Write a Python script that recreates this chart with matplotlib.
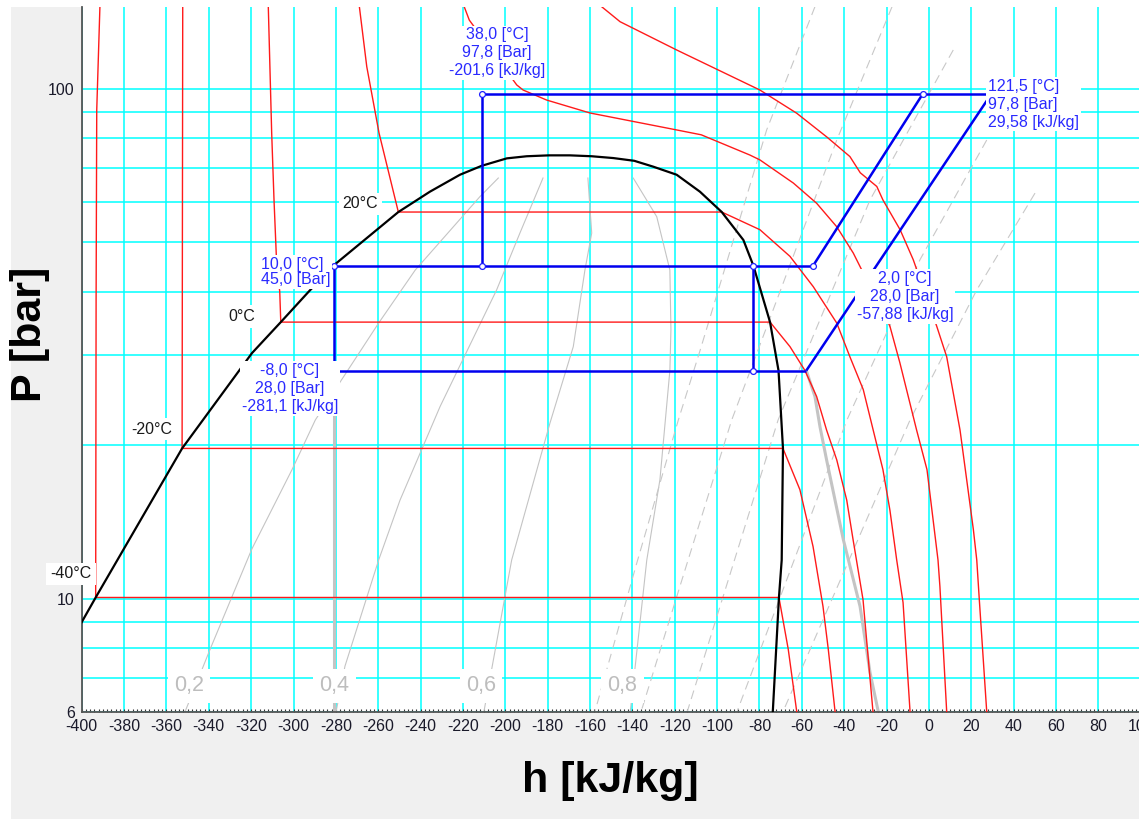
import matplotlib
matplotlib.use("Agg")
import matplotlib.pyplot as plt
from matplotlib.patches import Rectangle
from matplotlib.ticker import FixedLocator, MultipleLocator, NullFormatter, FuncFormatter

plt.rcParams['font.family'] = ['Liberation Sans', 'DejaVu Sans']
plt.rcParams['axes.unicode_minus'] = False

# ---------------- data (h in kJ/kg, P in bar) ----------------
X_TICKS = [-400, -380, -360, -340, -320, -300, -280, -260, -240, -220, -200, -180,
           -160, -140, -120, -100, -80, -60, -40, -20, 0, 20, 40, 60, 80, 100]
Y_TICKS = [6, 10, 100]
Y_GRID_MINOR = [7, 8, 9, 20, 30, 40, 50, 60, 70, 80, 90]

# saturation dome
H_SAT = [-400.0, -393.4, -352.6, -319.6, -306.0, -292.8, -281.1, -250.5, -235.6, -221.4,
         -211.1, -199.3, -189.9, -179.4, -169.5, -159.2, -149.0, -139.1, -130.1, -119.1,
         -108.1, -97.8, -87.6, -82.9, -75.0, -71.0, -68.9, -69.5, -70.8, -73.7]
P_SAT = [8.99, 10.05, 19.7, 30.3, 34.85, 40.0, 45.0, 57.29, 62.8, 67.8,
         70.6, 73.0, 73.7, 74.0, 74.0, 73.7, 73.1, 72.2, 70.3, 67.8,
         62.8, 57.29, 50.5, 45.0, 34.85, 28.0, 19.7, 11.9, 10.05, 6.0]

# isotherms
H_T_M40 = [-391.4, -392.9, -393.2, -393.4, -70.8, -66.4, -62.4]
P_T_M40 = [144.8, 90.8, 38.5, 10.05, 10.05, 7.95, 6.0]
H_T_M20 = [-352.3, -352.6, -68.9, -60.9, -54.7, -50.0, -47.5, -44.3]
P_T_M20 = [144.8, 19.7, 19.7, 16.35, 12.65, 9.65, 7.95, 6.0]
H_T_0 = [-311.9, -310.3, -309.2, -307.9, -306.5, -306.0, -75.0, -65.6, -58.5, -53.0,
         -48.3, -43.5, -38.8, -35.8, -31.1, -26.4]
P_T_0 = [144.8, 81.8, 60.5, 44.8, 40.0, 34.85, 34.85, 31.2, 28.0, 24.9,
         21.4, 18.7, 15.6, 13.05, 9.95, 6.0]
H_T_20 = [-268.9, -265.4, -259.6, -250.5, -97.8, -79.8, -65.6, -54.6, -43.5, -37.3,
          -31.0, -26.3, -21.7, -18.4, -15.2, -12.2, -8.9]
P_T_20 = [144.8, 110.4, 81.8, 57.29, 57.29, 52.9, 46.9, 40.9, 34.7, 29.8,
          25.7, 21.4, 17.9, 14.9, 11.9, 9.82, 6.0]
H_T_40 = [-219.4, -217.0, -204.9, -194.6, -191.6, -180.5, -160.0, -119.1, -107.5, -84.5,
          -79.8, -64.0, -53.0, -43.5, -35.7, -29.4, -18.4, -13.7, -5.8, -0.9, 4.3, 5.2, 8.4]
P_T_40 = [144.8, 136.3, 116.4, 101.7, 99.4, 95.0, 89.6, 83.0, 81.2, 74.1,
          72.5, 65.3, 59.6, 53.6, 47.6, 42.2, 34.2, 29.0, 21.4, 17.9, 11.9, 10.56, 6.0]
H_T_60 = [-154.5, -145.8, -119.1, -79.8, -62.4, -48.2, -37.3, -32.4, -24.6, -21.7,
          -13.6, -7.4, 3.7, 8.4, 14.7, 21.0, 22.6, 23.8, 27.3]
P_T_60 = [144.8, 135.3, 119.1, 99.4, 89.5, 80.4, 73.6, 68.4, 64.3, 60.5,
          52.9, 46.2, 34.2, 29.8, 21.4, 13.65, 11.9, 9.95, 6.0]

# vapour quality lines
H_X02 = [-203.3, -212.0, -242.5, -259.8, -289.7, -300.7, -319.7, -339.4, -351.2]
P_X02 = [66.8, 61.4, 44.1, 34.7, 22.4, 17.9, 12.5, 7.95, 6.0]
H_X04 = [-182.2, -193.1, -204.1, -230.8, -249.7, -259.8, -275.7, -279.9]
P_X04 = [66.8, 52.1, 40.3, 23.8, 15.6, 11.9, 7.37, 6.0]
H_X06 = [-161.0, -159.2, -162.4, -167.9, -178.9, -197.0, -210.1]
P_X06 = [66.8, 52.1, 44.1, 31.2, 22.1, 11.9, 6.0]
H_X08 = [-139.6, -128.5, -122.3, -121.8, -122.3, -127.0, -133.2, -141.0]
P_X08 = [66.8, 56.1, 44.1, 33.7, 28.0, 17.1, 11.9, 6.0]

# isentropes (dashed)
H_S1 = [-53.8, -76.6, -108.0, -118.3, -137.9, -157.7]
P_S1 = [144.8, 83.0, 30.7, 22.4, 11.75, 6.0]
H_S2 = [-17.4, -43.5, -68.2, -93.1, -113.7, -135.9]
P_S2 = [144.8, 79.3, 42.2, 22.4, 11.9, 6.0]
H_S3 = [11.5, -27.8, -71.2, -114.1]
P_S3 = [119.1, 60.5, 22.4, 6.0]
H_S4 = [27.3, -4.2, -38.7, -90.6]
P_S4 = [79.3, 46.2, 22.4, 6.0]
H_S5 = [50.1, 22.6, -8.9, -68.9]
P_S5 = [62.4, 40.3, 22.4, 6.0]

# highlighted lines through the evaporator points
H_HL_ISENTH = [-281.1, -281.1]
P_HL_ISENTH = [28.0, 6.0]
H_HL_ISOT = [-57.88, -53.8, -51.4, -48.3, -40.4, -32.5, -27.8, -23.9]
P_HL_ISOT = [28.0, 24.9, 21.7, 18.7, 13.05, 9.65, 7.16, 6.0]

# refrigeration cycle segments (as drawn)
CYCLE_H = [[-211.1, 29.58], [-211.1, -211.1], [-281.1, -54.6], [-281.1, -281.1],
           [-82.9, -82.9], [-281.1, -57.88], [-57.88, 29.58], [-54.6, -2.8]]
CYCLE_P = [[97.8, 97.8], [97.8, 45.0], [45.0, 45.0], [45.0, 28.0],
           [45.0, 28.0], [28.0, 28.0], [28.0, 97.8], [45.0, 97.8]]
MARK_H = [-211.1, -211.1, -281.1, -281.1, -82.9, -82.9, -54.6, -2.8]
MARK_P = [97.8, 45.0, 45.0, 28.0, 45.0, 28.0, 45.0, 97.8]

QUALITY_LABELS = ["0,2", "0,4", "0,6", "0,8"]
TEMP_LABELS = ["20°C", "0°C", "-20°C", "-40°C"]

# ---------------- figure ----------------
W, H = 1139, 819
fig = plt.figure(figsize=(W / 100, H / 100), dpi=100)
fig.patch.set_facecolor('white')
fig.patches.append(Rectangle((11 / W, 0), 1, (H - 6.7) / H, transform=fig.transFigure,
                             facecolor='#f0f0f0', edgecolor='none', zorder=-10))


def fxy(x, y):
    return (x / W, 1 - y / H)


ax = fig.add_axes([81.7 / W, 1 - 711.7 / H, 1059 / W, 705 / H])
ax.set_facecolor('white')
ax.set_yscale('log')
ax.set_xlim(-400, 100)
ax.set_ylim(6, 144.8)

ax.xaxis.set_major_locator(FixedLocator(X_TICKS))
ax.xaxis.set_minor_locator(MultipleLocator(2))
ax.yaxis.set_major_locator(FixedLocator(Y_TICKS))
ax.yaxis.set_major_formatter(FuncFormatter(lambda v, _: f"{v:g}"))
ax.yaxis.set_minor_locator(FixedLocator(Y_GRID_MINOR))
ax.yaxis.set_minor_formatter(NullFormatter())

grid_kw = dict(color='#00ffff', lw=1.1)
ax.xaxis.grid(True, which='major', **grid_kw)
ax.yaxis.grid(True, which='both', **grid_kw)
ax.set_axisbelow(True)

ax.tick_params(axis='x', which='both', direction='in', length=2.5, width=0.8,
               color='#333333', labelsize=11.5, labelcolor='#1a1a2a', pad=5)
ax.tick_params(axis='y', which='both', length=0, labelsize=11.5,
               labelcolor='#1a1a2a', pad=5)
for s in ('top', 'right'):
    ax.spines[s].set_visible(False)
for s in ('left', 'bottom'):
    ax.spines[s].set_color('#555555')
    ax.spines[s].set_linewidth(1.3)

# quality lines
for hh, pp in [(H_X02, P_X02), (H_X04, P_X04), (H_X06, P_X06), (H_X08, P_X08)]:
    ax.plot(hh, pp, color='#c4c4c4', lw=0.8, zorder=2)

# isentropes
for hh, pp in [(H_S1, P_S1), (H_S2, P_S2), (H_S3, P_S3), (H_S4, P_S4), (H_S5, P_S5)]:
    ln, = ax.plot(hh, pp, color='#c8c8c8', lw=0.8, zorder=2)
    ln.set_dashes((8, 5))

# highlighted lines
ax.plot(H_HL_ISENTH, P_HL_ISENTH, color='#c4c4c4', lw=2.2, zorder=2.5)
ax.plot(H_HL_ISOT, P_HL_ISOT, color='#c4c4c4', lw=2.2, zorder=2.5)

# isotherms
for hh, pp in [(H_T_M40, P_T_M40), (H_T_M20, P_T_M20), (H_T_0, P_T_0),
               (H_T_20, P_T_20), (H_T_40, P_T_40), (H_T_60, P_T_60)]:
    ax.plot(hh, pp, color='#ff1a1a', lw=1.0, zorder=3)

# saturation dome
ax.plot(H_SAT, P_SAT, color='black', lw=1.6, zorder=4)

# cycle
for hh, pp in zip(CYCLE_H, CYCLE_P):
    ax.plot(hh, pp, color='#0000ee', lw=1.8, zorder=5, solid_capstyle='butt')
ax.plot(MARK_H, MARK_P, 'o', ms=4.2, mfc='white', mec='#2020ff', mew=0.9, zorder=6)

# ---------------- texts ----------------
blue = '#2a2aff'
lab_kw = dict(color=blue, fontsize=11.5, va='center', linespacing=1.25,
              bbox=dict(boxstyle='square,pad=0.12', facecolor='white', edgecolor='none'))
fig.text(*fxy(497, 53), "38,0 [°C]\n97,8 [Bar]\n-201,6 [kJ/kg]", ha='center',
         multialignment='center', **lab_kw)
fig.text(*fxy(988, 104), "121,5 [°C]\n97,8 [Bar]\n29,58 [kJ/kg]", ha='left',
         multialignment='left', **lab_kw)
lab_kw2 = dict(lab_kw)
lab_kw2['linespacing'] = 1.05
fig.text(*fxy(261, 272), "10,0 [°C]\n45,0 [Bar]", ha='left', multialignment='left', **lab_kw2)
fig.text(*fxy(290, 388.5), "-8,0 [°C]\n28,0 [Bar]\n-281,1 [kJ/kg]", ha='center',
         multialignment='center', **lab_kw)
fig.text(*fxy(905, 296.5), "2,0 [°C]\n28,0 [Bar]\n-57,88 [kJ/kg]", ha='center',
         multialignment='center', **lab_kw)

temp_pos = [(360.5, 204), (242, 316.5), (152, 429), (71, 574)]
for t, (x, y) in zip(TEMP_LABELS, temp_pos):
    fig.text(*fxy(x, y), t, ha='center', va='center', fontsize=11.5, color='#1a1a1a',
             bbox=dict(boxstyle='square,pad=0.25', facecolor='white', edgecolor='none'))

q_pos = [(189, 686), (334.5, 686), (481, 686), (622.5, 686)]
for t, (x, y) in zip(QUALITY_LABELS, q_pos):
    fig.text(*fxy(x, y), t, ha='center', va='center', fontsize=15.5, color='#bdbdbd',
             bbox=dict(boxstyle='square,pad=0.3', facecolor='white', edgecolor='none'))

fig.text(*fxy(30, 334), "P [bar]", rotation=90, ha='center', va='center',
         fontsize=31, fontweight='bold', color='black')
fig.text(*fxy(610, 781), "h [kJ/kg]", ha='center', va='center',
         fontsize=31, fontweight='bold', color='black')

fig.savefig('out.png', dpi=100)
